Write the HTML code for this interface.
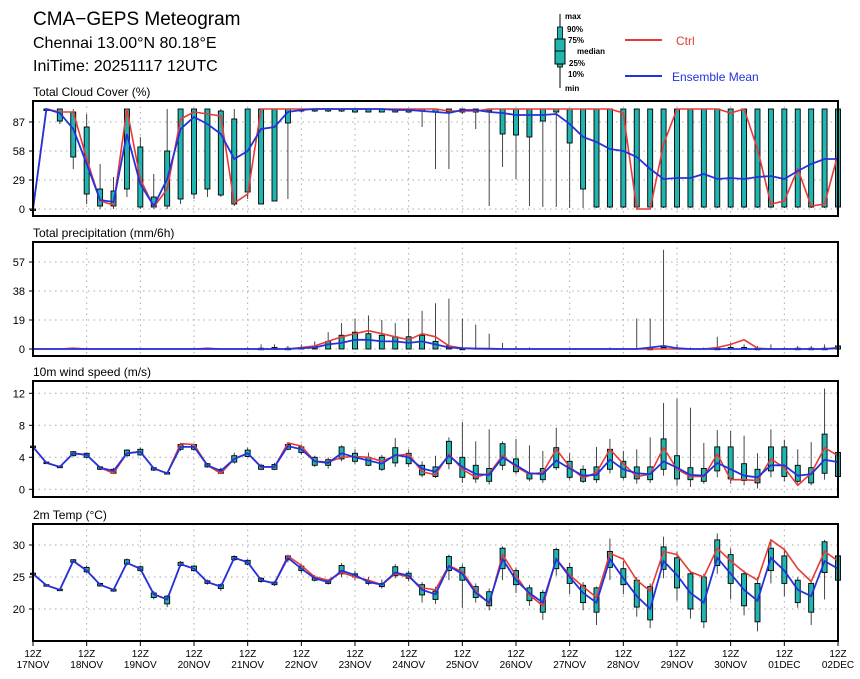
<!DOCTYPE html>
<html><head><meta charset="utf-8"><style>
body{margin:0;background:#fff;}
svg{display:block;font-family:"Liberation Sans",sans-serif;}
</style></head><body>
<svg id="chart" width="860" height="679" viewBox="0 0 860 679" xmlns="http://www.w3.org/2000/svg">
<text x="33" y="25" font-size="19" fill="#000">CMA−GEPS Meteogram</text>
<text x="33" y="48" font-size="16" fill="#000">Chennai 13.00°N 80.18°E</text>
<text x="33" y="71" font-size="16" fill="#000">IniTime: 20251117 12UTC</text>
<g>
<line x1="560" y1="14" x2="560" y2="88" stroke="#000"/>
<rect x="557.5" y="27" width="5" height="40" fill="#20b5b0" stroke="#000" stroke-width="0.8"/>
<rect x="555" y="39" width="10" height="25" fill="#20b5b0" stroke="#000"/>
<line x1="555" y1="51" x2="565" y2="51" stroke="#000"/>
<text x="565" y="19" font-size="8" font-weight="bold">max</text>
<text x="567" y="32" font-size="8" font-weight="bold">90%</text>
<text x="568" y="43" font-size="8" font-weight="bold">75%</text>
<text x="577" y="54" font-size="8" font-weight="bold">median</text>
<text x="569" y="66" font-size="8" font-weight="bold">25%</text>
<text x="568" y="77" font-size="8" font-weight="bold">10%</text>
<text x="565" y="91" font-size="8" font-weight="bold">min</text>
</g>
<g><line x1="625" y1="40" x2="662" y2="40" stroke="#e83a3a" stroke-width="2"/><text x="676" y="45" font-size="12" fill="#e83a3a">Ctrl</text></g>
<g><line x1="625" y1="76" x2="662" y2="76" stroke="#2233dd" stroke-width="2"/><text x="672" y="81" font-size="12" fill="#2233dd">Ensemble Mean</text></g>
</svg>
<script>
const tickDays=["17NOV","18NOV","19NOV","20NOV","21NOV","22NOV","23NOV","24NOV","25NOV","26NOV","27NOV","28NOV","29NOV","30NOV","01DEC","02DEC"];

const cloudCtrl=[0,100,97,97,50,8,4,100,30,2,20,90,97,95,93,6,15,100,100,100,100,100,100,100,100,100,100,100,100,100,100,98,98,98,100,100,100,100,100,100,100,100,100,100,96,0,0,65,100,100,100,100,96,100,60,5,8,40,3,5,55];
const cloudMean=[0,100,96,80,45,9,7,75,25,3,30,80,92,85,75,50,58,80,82,97,99,100,100,100,100,100,100,99,99,98,97,96,99,99,97,96,94,94,94,95,85,72,67,60,58,52,40,30,31,31,35,30,31,30,32,33,30,38,45,50,50];
const cloudQ1=[0,100,88,52,15,3,3,20,2,2,3,10,15,20,14,5,17,5,8,86,98,98,98,98,97,97,97,97,97,98,97,97,97,97,98,75,74,72,88,97,66,20,2,2,2,2,2,2,2,2,2,2,2,2,2,2,2,2,2,2,2];
const cloudQ3=[0,100,100,97,82,20,18,100,62,12,58,100,100,100,98,90,100,100,100,100,100,100,100,100,100,100,100,100,100,100,100,100,100,100,100,100,100,100,100,100,100,100,100,100,100,100,100,100,100,100,100,100,100,100,100,100,100,100,100,100,100];
const cloudMin=[0,100,85,40,5,0,0,12,0,0,0,5,10,12,12,3,10,5,8,10,97,97,97,97,97,97,97,97,97,82,40,40,95,80,3,42,30,3,2,2,1,1,1,1,1,1,1,1,1,1,1,1,1,1,1,1,1,1,1,1,1];
const cloudMax=[0,100,100,100,95,45,32,100,72,35,100,100,100,100,100,100,100,100,100,100,100,100,100,100,100,100,100,100,100,100,100,100,100,100,100,100,100,100,100,100,100,100,100,100,100,100,100,100,100,100,100,100,100,100,100,100,100,100,100,100,100];

const precCtrl=[0,0,0,0.5,0,0,0,0,0,0,0,0,0,0.5,0,0,0,0,0,0,1,2,5,8,10,12,10,8,6,10,8,2,0.5,0,0,0,0,0,0,0,0,0,0,0,0,0,0,0,0,0,0,1,3,6,0.5,0,0,0,0,0,1];
const precMean=[0,0,0,0,0,0,0,0,0,0,0,0,0,0,0,0,0,0,0,0,0.5,1,3,4,6,6,5,5,4,5,3,1,0.5,0.3,0.2,0,0,0,0,0,0,0,0,0,0,0,1,2,0.5,0,0,0,0,0,0,0,0,0,0,0,0.5];
const precQ3=[0,0,0,0,0,0,0,0,0,0,0,0,0,0,0,0,0,0.5,1,0.5,1,2,5,9,11,10,9,8,8,9,5,2,0.5,0,0,0,0,0,0,0,0,0,0,0,0,0,0.5,1,0,0,0,0.5,1,1,0.5,0,0,0.5,0.5,0.5,2];
const precMax=[0,0,0,0.5,0,0,0,0,0,0,0,0,0,1,0,0,1,3,3,2,3,5,11,17,20,22,19,17,20,25,30,33,20,16,10,4,2,1,0,0,0,0,0,1,0,20,20,65,3,1,1,8,4,3,2,3,1,2,2,3,12];

const windCtrl=[5.3,3.3,2.8,4.5,4.3,2.7,2.0,4.5,4.7,2.6,2.0,5.7,5.6,3.0,2.0,3.8,4.5,2.8,2.8,5.8,5.4,3.5,3.4,4.0,4.1,4.0,3.5,4.2,4.4,2.2,1.8,4.4,2.5,1.5,2.0,4.2,2.8,1.9,2.1,5.0,2.8,1.4,2.1,5.0,3.2,1.6,1.9,5.2,2.5,1.6,1.6,4.4,1.2,1.2,1.1,3.8,2.7,0.5,2.0,5.2,4.2];
const windMean=[5.3,3.3,2.8,4.5,4.3,2.7,2.3,4.5,4.7,2.6,2.0,5.3,5.3,3.0,2.3,3.8,4.5,2.8,2.8,5.4,5.0,3.5,3.3,4.5,4.0,3.6,3.2,4.3,4.0,2.6,2.2,4.2,2.8,1.9,1.8,4.0,3.0,2.0,1.9,3.6,2.6,1.7,1.8,3.7,2.5,2.0,1.9,3.5,2.7,1.8,1.7,3.3,2.5,1.7,1.5,3.0,3.0,1.7,1.9,3.7,3.4];
const windQ1=[5.3,3.3,2.7,4.2,4.0,2.5,2.0,4.2,4.3,2.4,1.9,5.0,5.0,2.8,2.0,3.4,4.1,2.5,2.5,5.0,4.6,3.0,3.0,3.8,3.5,3.0,2.5,3.3,3.2,1.8,1.6,3.2,1.5,1.3,1.0,3.0,2.2,1.3,1.2,2.7,1.5,1.0,1.2,2.5,1.5,1.3,1.2,2.5,1.3,1.2,1.0,2.3,1.3,1.1,0.8,2.3,1.6,1.0,0.8,2.0,1.6];
const windQ3=[5.4,3.4,2.9,4.7,4.5,2.8,2.5,4.9,5.0,2.7,2.1,5.6,5.6,3.2,2.5,4.2,4.9,3.0,3.1,5.6,5.3,4.0,3.7,5.3,4.5,4.0,4.0,5.2,4.5,3.0,2.8,6.0,4.0,3.0,2.6,5.7,3.8,2.0,2.6,5.2,3.5,2.5,2.8,5.0,3.5,2.8,2.8,6.3,4.2,2.7,2.6,5.3,5.3,3.2,2.5,5.3,5.3,3.0,2.7,6.9,4.6];
const windMin=[5.3,3.3,2.7,4.1,3.9,2.4,1.9,4.1,4.2,2.3,1.9,4.8,4.8,2.7,1.9,3.2,4.0,2.4,2.4,4.9,4.3,2.8,2.6,3.5,3.2,2.9,2.3,2.8,2.8,1.5,1.4,2.5,0.8,0.8,0.6,2.4,1.9,1.0,0.8,2.4,1.2,0.8,0.8,2.0,1.2,0.7,0.8,1.7,0.5,0.3,0.7,1.5,0.7,0.5,0.1,1.5,1.0,0.7,0.5,1.2,1.3];
const windMax=[5.4,3.5,3.0,4.8,4.6,2.9,2.7,5.0,5.2,2.8,2.2,5.8,5.7,3.3,2.7,4.6,5.2,3.2,3.3,5.9,5.6,4.2,4.0,5.5,5.0,4.6,4.3,6.4,5.0,3.5,4.2,6.5,8.4,6.0,7.5,6.0,6.3,5.5,4.8,7.7,4.5,3.0,5.3,6.3,4.8,5.0,6.5,10.8,11.3,10.2,5.8,7.4,7.3,6.7,4.5,7.5,6.2,5.0,5.9,12.6,4.8];

const tempCtrl=[25.5,23.7,23.0,27.5,26.0,23.8,23.0,27.2,26.3,22.3,21.5,27.0,26.3,24.2,23.5,28.0,27.3,24.5,24.0,28.3,26.8,25.0,24.5,25.7,25.0,24.5,23.8,25.5,25.0,23.3,23.0,26.8,25.8,22.8,20.8,28.5,25.2,22.2,20.5,27.8,25.3,23.5,21.8,28.7,27.8,24.5,22.8,29.0,28.5,25.8,25.0,29.5,27.5,25.8,24.5,30.8,29.3,26.3,24.3,29.0,27.5];
const tempMean=[25.5,23.7,23.0,27.5,26.0,23.8,23.0,27.2,26.3,22.3,21.5,27.0,26.3,24.2,23.5,28.0,27.3,24.5,24.0,28.0,26.3,24.8,24.2,26.0,25.3,24.2,23.8,25.7,25.2,23.0,22.3,26.7,25.5,22.5,21.0,27.8,24.5,22.5,21.0,27.8,25.0,22.5,21.0,27.8,24.8,22.0,20.0,27.5,25.3,22.5,21.0,28.0,25.5,23.0,21.3,28.0,26.0,23.0,22.0,27.5,26.3];
const tempQ1=[25.4,23.6,22.9,27.3,25.8,23.6,22.8,27.0,26.0,21.8,20.8,26.8,26.0,24.0,23.2,27.7,27.0,24.3,23.8,27.7,26.0,24.5,24.0,25.5,25.0,24.0,23.5,25.2,24.8,22.2,21.5,26.0,24.5,21.8,20.5,26.3,23.8,21.3,19.5,26.3,24.0,21.0,19.5,26.5,23.8,20.3,18.3,26.2,23.3,20.0,18.0,26.8,24.0,20.5,18.0,26.0,24.0,21.0,19.5,25.7,24.5];
const tempQ3=[25.6,23.8,23.1,27.7,26.5,24.0,23.1,27.7,26.6,22.5,22.0,27.3,26.7,24.4,23.8,28.2,27.6,24.8,24.2,28.3,26.7,25.0,24.4,26.8,25.5,24.4,24.0,26.6,25.6,23.8,22.8,28.2,26.5,23.5,22.7,29.5,26.0,23.3,22.6,29.3,26.5,23.7,23.3,29.0,26.3,24.5,23.5,29.7,28.0,25.5,25.0,30.8,28.5,25.5,24.0,29.5,28.3,24.5,24.0,30.5,28.3];
const tempMin=[25.3,23.5,22.8,27.2,25.6,23.5,22.7,26.8,25.8,21.5,20.3,26.6,25.8,23.8,22.8,27.5,26.8,24.1,23.6,27.3,25.6,24.3,23.8,25.0,24.5,23.7,23.2,24.8,24.3,21.0,20.8,24.5,20.2,21.0,19.8,24.5,22.5,20.5,18.3,25.2,22.3,19.8,17.5,24.5,22.3,18.8,17.0,24.8,21.3,18.5,17.0,25.5,21.5,19.0,16.5,24.0,22.0,20.2,17.5,21.5,23.5];
const tempMax=[25.7,23.9,23.2,27.8,26.8,24.1,23.2,27.9,26.8,22.8,22.2,27.5,26.9,24.6,24.0,28.4,27.8,25.0,24.4,28.5,27.0,25.3,24.6,27.2,26.0,25.0,24.6,27.0,26.0,24.2,23.5,28.5,27.0,24.0,23.2,29.8,26.5,23.8,23.0,29.6,27.2,24.2,23.5,31.0,27.5,25.0,24.0,31.3,29.0,26.0,25.5,31.8,29.5,26.0,25.0,30.6,29.5,25.0,24.5,30.8,28.6];

const cloudTicks=[0,29,58,87], precTicks=[0,19,38,57], windTicks=[0,4,8,12], tempTicks=[20,25,30];

const NS="http://www.w3.org/2000/svg";
const svg=document.getElementById('chart');
const X0=33,X1=838,N=61;
function xScale(i){return X0+(X1-X0)*i/(N-1);}
function mk(tag,attrs,parent){const e=document.createElementNS(NS,tag);for(const k in attrs)e.setAttribute(k,attrs[k]);(parent||svg).appendChild(e);return e;}

const panels=[
 {name:'cloud',title:'Total Cloud Cover (%)',top:101,bot:216,v0:0,y0:209,v1:100,y1:109,ticks:cloudTicks,ctrl:cloudCtrl,mean:cloudMean,q1:cloudQ1,q3:cloudQ3,mn:cloudMin,mx:cloudMax},
 {name:'precip',title:'Total precipitation (mm/6h)',top:242,bot:356,v0:0,y0:349,v1:57,y1:262,ticks:precTicks,ctrl:precCtrl,mean:precMean,q1:null,q3:precQ3,mn:null,mx:precMax},
 {name:'wind',title:'10m wind speed (m/s)',top:381,bot:497,v0:0,y0:489.3,v1:12,y1:393.3,ticks:windTicks,ctrl:windCtrl,mean:windMean,q1:windQ1,q3:windQ3,mn:windMin,mx:windMax},
 {name:'temp',title:'2m Temp (°C)',top:524,bot:641,v0:20,y0:609,v1:30,y1:545,ticks:tempTicks,ctrl:tempCtrl,mean:tempMean,q1:tempQ1,q3:tempQ3,mn:tempMin,mx:tempMax}
];

panels.forEach(p=>{
 const ys=v=>p.y0+(v-p.v0)*(p.y1-p.y0)/(p.v1-p.v0);
 const g=mk('g',{});
 
 
 const t=mk('text',{x:33,y:p.top-5,'font-size':12},g);
 t.textContent=p.title;
 
 
 p.ticks.forEach(v=>{
  const y=ys(v);
  const gl=mk('line',{x1:X0,x2:X1,y1:y,y2:y,stroke:'#aaa','stroke-dasharray':'1.5,4','stroke-width':1},g);
  
  
  mk('line',{x1:X0-4,x2:X0,y1:y,y2:y,stroke:'#000'},g);
  const lt=mk('text',{x:25,y:y+4,'font-size':11,'text-anchor':'end'},g);
  lt.textContent=String(v);
  
  
 });
 for(let d=1;d<tickDays.length-1;d++){
  const x=xScale(d*4);
  mk('line',{x1:x,x2:x,y1:p.top,y2:p.bot,stroke:'#aaa','stroke-dasharray':'1.5,4'},g);
 }
 for(let i=0;i<N;i++){
  const x=xScale(i);
  const hi=p.mx[i], lo=p.mn?p.mn[i]:0;
  if(hi>lo){
   const w=mk('line',{x1:x,x2:x,y1:ys(lo),y2:ys(hi),stroke:'#333','stroke-width':0.9},g);
   
   
  }
  const a=p.q1?p.q1[i]:0, b=p.q3[i];
  if(b>a || p.name!=='precip'){
   const yt=ys(b), yb=ys(a);
   const r=mk('rect',{x:x-2.5,y:yt,width:5,height:Math.max(yb-yt,1.5),fill:'#20b5b0',stroke:'#000','stroke-width':0.9},g);
   
   
  }
 }
 const path=arr=>arr.map((v,i)=>(i?'L':'M')+xScale(i).toFixed(1)+','+ys(v).toFixed(1)).join('');
 const lc=mk('path',{d:path(p.ctrl),fill:'none',stroke:'#e83a3a','stroke-width':1.6},g);
 
 
 const lm=mk('path',{d:path(p.mean),fill:'none',stroke:'#2233dd','stroke-width':1.8},g);
 
 
 const fr=mk('rect',{x:X0,y:p.top,width:X1-X0,height:p.bot-p.top,fill:'none',stroke:'#000','stroke-width':2},g);
 
 
});

tickDays.forEach((d,k)=>{
 const x=xScale(k*4);
 mk('line',{x1:x,x2:x,y1:641,y2:646,stroke:'#000'});
 const t1=mk('text',{x:x,y:657,'font-size':10,'text-anchor':'middle'});
 t1.textContent='12Z';
 
 
 const t2=mk('text',{x:x,y:668,'font-size':10,'text-anchor':'middle'});
 t2.textContent=d;
 
 
});
</script>
</body></html>
